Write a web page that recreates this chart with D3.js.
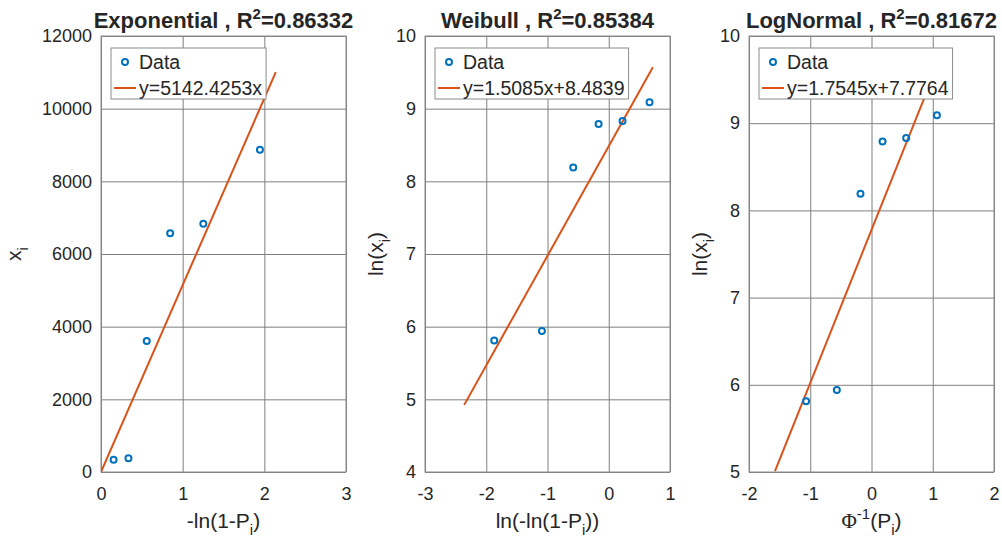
<!DOCTYPE html>
<html>
<head>
<meta charset="utf-8">
<script src="https://cdn.jsdelivr.net/npm/d3@7"></script>
<style>
body { margin: 0; background: #fff; }
text { font-family: "Liberation Sans", Arial, sans-serif; fill: #262626; }
</style>
</head>
<body>
<script>
// values
var expX = [0.154, 0.336, 0.560, 0.847, 1.253, 1.946];
var expY = [334, 380, 3604, 6568, 6836, 8866];
var weibullX = [-1.870, -1.091, -0.580, -0.166, 0.225, 0.666];
var normalX = [-1.068, -0.566, -0.180, 0.180, 0.566, 1.068];
var lnY = [5.81, 5.94, 8.19, 8.79, 8.83, 9.09];

var titles = ["Exponential", "Weibull", "LogNormal"];
var r2 = ["0.86332", "0.85384", "0.81672"];
var fitLabels = ["y=5142.4253x", "y=1.5085x+8.4839", "y=1.7545x+7.7764"];
var fitSlope = [5142.4253, 1.5085, 1.7545];
var fitIntercept = [0, 8.4839, 7.7764];
var fitXRange = [[0, 2.14], [-2.36, 0.72], [-1.576, 1.175]];

var xTicksExp = [0, 1, 2, 3];
var yTicksExp = [0, 2000, 4000, 6000, 8000, 10000, 12000];
var xTicksWeibull = [-3, -2, -1, 0, 1];
var yTicksWeibull = [4, 5, 6, 7, 8, 9, 10];
var xTicksNormal = [-2, -1, 0, 1, 2];
var yTicksNormal = [5, 6, 7, 8, 9, 10];

var blue = "#0072BD", orange = "#D95319", gridCol = "#7f7f7f";
var top0 = 36, bottom0 = 472;

var panels = [
    { left: 101, right: 346, xs: expX, ys: expY, xt: xTicksExp, yt: yTicksExp, ylab: "x", xlab: "exp" },
    { left: 425, right: 670, xs: weibullX, ys: lnY, xt: xTicksWeibull, yt: yTicksWeibull, ylab: "ln", xlab: "weibull" },
    { left: 749, right: 994, xs: normalX, ys: lnY, xt: xTicksNormal, yt: yTicksNormal, ylab: "ln", xlab: "normal" }
];

var svg = d3.select("body").append("svg")
    .attr("width", 1002)
    .attr("height", 546);

// plain hyphen minus like the original
var plain = function(d) { return String(d); };

panels.forEach(function(p, k) {
    var w = p.right - p.left, h = bottom0 - top0;
    var x = d3.scaleLinear().domain(d3.extent(p.xt)).range([0, w]);
    var y = d3.scaleLinear().domain(d3.extent(p.yt)).range([h, 0]);

    var g = svg.append("g").attr("transform", "translate(" + p.left + "," + top0 + ")");

    g.append("defs").append("clipPath").attr("id", "clip" + k)
        .append("rect").attr("width", w).attr("height", h);

    // axes with grid lines
    var xa = g.append("g").attr("transform", "translate(0," + h + ")")
        .call(d3.axisBottom(x).tickValues(p.xt).tickSize(-h).tickPadding(15).tickFormat(plain));
    var ya = g.append("g")
        .call(d3.axisLeft(y).tickValues(p.yt).tickSize(-w).tickPadding(9).tickFormat(plain));
    [xa, ya].forEach(function(a) {
        a.select(".domain").remove();
        a.selectAll("line").attr("stroke", gridCol).attr("stroke-width", 1);
        a.selectAll("text").style("font-size", "18px").attr("fill", "#262626");
    });

    g.append("rect").attr("width", w).attr("height", h)
        .attr("fill", "none").attr("stroke", "#8c8c8c").attr("stroke-width", 1);

    var plot = g.append("g").attr("clip-path", "url(#clip" + k + ")");

    // fitted line
    plot.append("path")
        .datum(fitXRange[k])
        .attr("d", d3.line()
            .x(function(d) { return x(d); })
            .y(function(d) { return y(fitSlope[k] * d + fitIntercept[k]); }))
        .attr("stroke", orange).attr("stroke-width", 2).attr("fill", "none");

    plot.selectAll("circle.pt")
        .data(p.xs)
        .enter()
        .append("circle")
        .attr("class", "pt")
        .attr("cx", function(d) { return x(d); })
        .attr("cy", function(d, i) { return y(p.ys[i]); })
        .attr("r", 3)
        .attr("fill", "none")
        .attr("stroke", blue)
        .attr("stroke-width", 2);

    // title
    var t = g.append("text")
        .attr("x", w / 2).attr("y", -8.5)
        .attr("text-anchor", "middle")
        .style("font-size", "22px").style("font-weight", "bold").attr("fill", "#000");
    t.append("tspan").text(titles[k] + " , R");
    t.append("tspan").attr("dy", -9).style("font-size", "15px").text("2");
    t.append("tspan").attr("dy", 9).text("=" + r2[k]);

    // x label
    var xl = g.append("text")
        .attr("x", w / 2).attr("y", h + 56)
        .attr("text-anchor", "middle")
        .style("font-size", "21px");
    if (p.xlab === "exp") {
        xl.append("tspan").text("-ln(1-P");
        xl.append("tspan").attr("dy", 7).style("font-size", "15px").text("i");
        xl.append("tspan").attr("dy", -7).text(")");
    } else if (p.xlab === "weibull") {
        xl.append("tspan").text("ln(-ln(1-P");
        xl.append("tspan").attr("dy", 7).style("font-size", "15px").text("i");
        xl.append("tspan").attr("dy", -7).text("))");
    } else {
        xl.append("tspan").style("font-family", "'Liberation Serif', serif").text("\u03A6");
        xl.append("tspan").attr("dy", -9).style("font-size", "15px").text("-1");
        xl.append("tspan").attr("dy", 9).text("(P");
        xl.append("tspan").attr("dy", 7).style("font-size", "15px").text("i");
        xl.append("tspan").attr("dy", -7).text(")");
    }

    // y label
    var yl = g.append("text")
        .attr("transform", "translate(" + (k === 0 ? -80 : -42) + "," + (h / 2) + ") rotate(-90)")
        .attr("text-anchor", "middle")
        .style("font-size", "21px");
    if (p.ylab === "x") {
        yl.append("tspan").text("x");
        yl.append("tspan").attr("dy", 7).style("font-size", "15px").text("i");
    } else {
        yl.append("tspan").text("ln(x");
        yl.append("tspan").attr("dy", 7).style("font-size", "15px").text("i");
        yl.append("tspan").attr("dy", -7).text(")");
    }

    // legend
    var lg = g.append("g").attr("transform", "translate(10,12)");
    var box = lg.append("rect").attr("height", 51)
        .attr("fill", "#fff").attr("stroke", "#8c8c8c").attr("stroke-width", 1);
    lg.append("circle").attr("cx", 14).attr("cy", 14).attr("r", 3)
        .attr("fill", "none").attr("stroke", blue).attr("stroke-width", 2);
    var t1 = lg.append("text").attr("x", 28).attr("y", 21).style("font-size", "19.5px").text("Data");
    lg.append("line").attr("x1", 3).attr("x2", 25).attr("y1", 40).attr("y2", 40)
        .attr("stroke", orange).attr("stroke-width", 2);
    var t2 = lg.append("text").attr("x", 28).attr("y", 47).style("font-size", "19.5px").text(fitLabels[k]);
    var tw = Math.max(t1.node().getComputedTextLength(), t2.node().getComputedTextLength());
    box.attr("width", 28 + tw + 4);
});
</script>
</body>
</html>
